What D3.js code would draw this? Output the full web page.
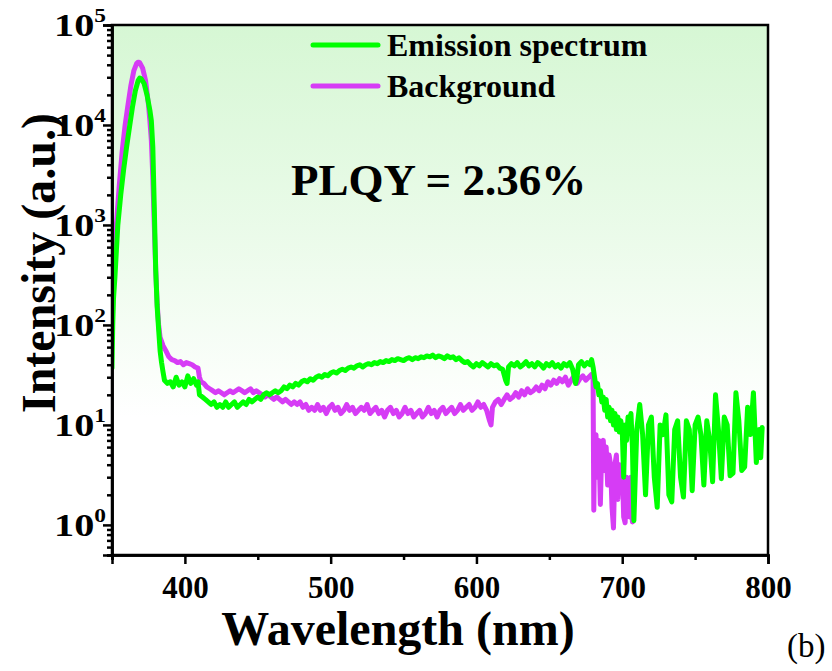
<!DOCTYPE html>
<html>
<head>
<meta charset="utf-8">
<script src="https://cdn.jsdelivr.net/npm/d3@7"></script>
<style>
  body { margin: 0; background: #fff; }
  svg { display: block; }
</style>
</head>
<body>
<script>
// PL spectrum vs background, log intensity axis

const xMajorTicks = [400, 500, 600, 700, 800];
const xMinorTicks = [350, 450, 550, 650, 750];
const yDecades = [0, 1, 2, 3, 4, 5];
const legendLabels = ["Emission spectrum", "Background"];
const seriesColors = ["#00ff00", "#d63cf5"];
const plqyLabel = "PLQY = 2.36%";

// [wavelength nm, intensity a.u.]
const emissionSpectrum = [
  [350, 37], [350.5, 100], [351, 180], [352, 300], [353, 550], [354, 1000], [356, 2000], [358, 3600],
  [360, 6000], [362, 9500], [364, 15000], [366, 22000], [368, 28000], [369, 29500], [370, 29000],
  [372, 26000], [374, 20000], [376, 14000], [377, 11000], [378, 6000], [379, 1500], [380, 350],
  [381, 150], [382, 90], [383, 55], [384, 42], [385, 34], [386, 28], [388, 26], [390, 27], [392, 24],
  [394, 30], [396, 25], [398, 27], [400, 24], [402, 31], [404, 26], [406, 29], [408, 25], [409, 27],
  [410, 20], [412, 19], [414, 18], [416, 17], [418, 16], [420, 17], [422, 15], [424, 16], [426, 15],
  [428, 17], [430, 15], [432, 16], [434, 17], [436, 15], [438, 16], [440, 17], [442, 16], [444, 18],
  [446, 17], [448, 18], [450, 19], [452, 18], [454, 20], [456, 21], [458, 20], [460, 21], [462, 22],
  [464, 21], [466, 22], [468, 24], [470, 23], [472, 25], [474, 24], [476, 26], [478, 25], [480, 27],
  [482, 28], [484, 27], [486, 29], [488, 28], [490, 30], [492, 31], [494, 30], [496, 32], [498, 31],
  [500, 33], [502, 34], [504, 33], [506, 35], [508, 36], [510, 35], [512, 37], [514, 38], [516, 37],
  [518, 39], [520, 40], [522, 38], [524, 40], [526, 41], [528, 40], [530, 42], [532, 41], [534, 43],
  [536, 42], [538, 44], [540, 43], [542, 45], [544, 44], [546, 46], [548, 45], [550, 44], [552, 46],
  [554, 47], [556, 45], [558, 47], [560, 46], [562, 48], [564, 47], [566, 49], [568, 48], [570, 50],
  [572, 47], [574, 49], [576, 48], [578, 46], [580, 49], [582, 47], [584, 48], [586, 45], [588, 47],
  [590, 44], [592, 42], [594, 43], [596, 40], [598, 38], [600, 41], [602, 39], [604, 42], [606, 40],
  [608, 38], [610, 41], [612, 39], [614, 40], [616, 37], [618, 36], [620, 28], [621, 26], [622, 38],
  [624, 41], [626, 39], [628, 42], [630, 38], [632, 40], [634, 43], [636, 39], [638, 41], [640, 38],
  [642, 42], [644, 40], [646, 37], [648, 41], [650, 39], [652, 42], [654, 38], [656, 40], [658, 37],
  [660, 41], [662, 39], [664, 42], [666, 36], [668, 26], [669, 30], [670, 40], [672, 43], [674, 39],
  [676, 42], [678, 40], [679, 45], [680, 38], [681, 30], [682, 24], [683, 26], [684, 20], [685, 22],
  [686, 17], [687, 19], [688, 14], [689, 18], [690, 12], [691, 15], [692, 11], [693, 14], [694, 10],
  [695, 13], [696, 9], [697, 12], [698, 8.5], [699, 11], [700, 9], [701, 3], [702, 10], [703, 7],
  [704, 12], [705, 9], [706, 13], [707, 6], [708, 1.1], [710, 9], [712, 16], [714, 8], [716, 2.0],
  [718, 10], [720, 12], [722, 3], [724, 1.5], [726, 10], [728, 8], [730, 12.6], [732, 2], [734, 1.7],
  [736, 9], [738, 11], [740, 3], [742, 1.9], [744, 11], [746, 9], [748, 2.2], [750, 10], [752, 12],
  [754, 8], [756, 2.5], [758, 11], [760, 7], [762, 2.7], [764, 20], [766, 9], [768, 2.9], [770, 12],
  [772, 10], [774, 3.1], [776, 3.3], [778, 21], [780, 11], [782, 3.5], [784, 3.8], [786, 15], [788, 8],
  [790, 21], [792, 4.2], [794, 9], [795, 4.7], [796, 9.4]
];

const backgroundSpectrum = [
  [350, 90], [351, 250], [352, 550], [353, 1000], [355, 2500], [357, 5500], [359, 10000], [361, 16000],
  [363, 25000], [365, 35000], [367, 41500], [368, 42500], [369, 42000], [371, 37000], [373, 28000],
  [375, 16000], [376, 11000], [377, 7000], [378, 3000], [379, 1000], [380, 350], [381, 160], [382, 100],
  [383, 75], [385, 62], [387, 55], [389, 48], [391, 45], [393, 44], [395, 42], [397, 43], [399, 40],
  [401, 42], [403, 41], [405, 40], [407, 38], [409, 37], [410, 30], [411, 27], [413, 26], [415, 24],
  [417, 23], [419, 22], [421, 21], [423, 22], [425, 21], [427, 20], [429, 21], [431, 22], [433, 21],
  [435, 22], [437, 23], [439, 22], [441, 21], [443, 22], [445, 23], [447, 21], [449, 22], [451, 21],
  [453, 20], [455, 19], [457, 20], [459, 19], [461, 18], [463, 19], [465, 18], [467, 17], [469, 18],
  [471, 17], [473, 16], [475, 17], [477, 16], [479, 17], [481, 15], [483, 16], [485, 14], [487, 15],
  [489, 14], [491, 16], [493, 14], [495, 15], [497, 13], [499, 15], [501, 16], [503, 14], [505, 15],
  [507, 13], [509, 14], [511, 16], [513, 14], [515, 15], [517, 13], [519, 14], [521, 15], [523, 14],
  [525, 16], [527, 13], [529, 14], [531, 15], [533, 13], [535, 14], [537, 12], [539, 14], [541, 15],
  [543, 13], [545, 14], [547, 12], [549, 13], [551, 15], [553, 13], [555, 14], [557, 12], [559, 13],
  [561, 14], [563, 12], [565, 13], [567, 15], [569, 13], [571, 14], [573, 12], [575, 14], [577, 15],
  [579, 13], [581, 14], [583, 15], [585, 13], [587, 14], [589, 16], [591, 14], [593, 15], [595, 16],
  [597, 14], [599, 15], [601, 17], [603, 15], [605, 16], [607, 14], [609, 11], [610, 10], [611, 15],
  [613, 17], [615, 18], [617, 16], [619, 18], [621, 20], [623, 18], [625, 19], [627, 21], [629, 19],
  [631, 22], [633, 20], [635, 23], [637, 21], [639, 22], [641, 24], [643, 22], [645, 25], [647, 23],
  [649, 27], [651, 25], [653, 28], [655, 26], [657, 29], [659, 27], [661, 30], [663, 25], [665, 28],
  [667, 31], [669, 26], [671, 29], [673, 31], [675, 28], [677, 30], [679, 32], [680, 30], [680.5, 1.4],
  [681, 6], [682, 8], [683, 3], [684, 7], [685, 1.6], [686, 6], [687, 7], [688, 3.5], [689, 6],
  [690, 2.5], [691, 5], [692, 4], [693, 1.5], [694, 0.93], [695, 4], [696, 5], [697, 1.8], [698, 4],
  [699, 3], [700, 4], [701, 1.2], [702, 1.05], [703, 3], [704, 2.5], [705, 1.2], [706, 3], [707, 1.07]
];

const width = 832, height = 671;
const plot = { left: 112, right: 768, top: 25, bottom: 555 };
const serif = "'Times New Roman', 'Liberation Serif', serif";

const svg = d3.select("body").append("svg")
  .attr("width", width)
  .attr("height", height)
  .style("font-family", serif);

const x = d3.scaleLinear().domain([350, 800]).range([plot.left, plot.right]);
const y = d3.scaleLog().domain([0.5, 1e5]).range([plot.bottom, plot.top]);

// soft green wash behind the data
const defs = svg.append("defs");
const grad = defs.append("linearGradient")
  .attr("id", "bg")
  .attr("x1", 0).attr("y1", 0).attr("x2", 0).attr("y2", 1);
grad.append("stop").attr("offset", "0%").attr("stop-color", "#d6f7d4");
grad.append("stop").attr("offset", "40%").attr("stop-color", "#ebfbea");
grad.append("stop").attr("offset", "74%").attr("stop-color", "#ffffff");

defs.append("clipPath").attr("id", "clip")
  .append("rect")
  .attr("x", plot.left).attr("y", plot.top)
  .attr("width", plot.right - plot.left).attr("height", plot.bottom - plot.top);

svg.append("rect")
  .attr("x", plot.left).attr("y", plot.top)
  .attr("width", plot.right - plot.left).attr("height", plot.bottom - plot.top)
  .attr("fill", "url(#bg)");

const line = d3.line()
  .x(d => x(d[0]))
  .y(d => y(d[1]));

const lines = svg.append("g").attr("clip-path", "url(#clip)");
[backgroundSpectrum, emissionSpectrum].forEach((data, i) => {
  lines.append("path")
    .datum(data)
    .attr("d", line)
    .attr("fill", "none")
    .attr("stroke", seriesColors[1 - i])
    .attr("stroke-width", 5)
    .attr("stroke-linejoin", "round")
    .attr("stroke-linecap", "round");
});

// frame
svg.append("rect")
  .attr("x", plot.left).attr("y", plot.top)
  .attr("width", plot.right - plot.left).attr("height", plot.bottom - plot.top)
  .attr("fill", "none")
  .attr("stroke", "#000")
  .attr("stroke-width", 2.5);

// x axis
const xAxis = svg.append("g")
  .attr("transform", `translate(0,${plot.bottom})`)
  .call(d3.axisBottom(x).tickValues(xMajorTicks).tickSize(9).tickPadding(12).tickFormat(d3.format("d")));
svg.append("g")
  .attr("transform", `translate(0,${plot.bottom})`)
  .call(d3.axisBottom(x).tickValues(xMinorTicks).tickSize(5).tickFormat(""));

// y axis: decades plus 2..9 minor ticks
const yMajor = yDecades.map(p => Math.pow(10, p));
const yMinor = [];
[-1, 0, 1, 2, 3, 4].forEach(p => {
  for (let k = 2; k <= 9; k++) {
    const v = k * Math.pow(10, p);
    if (v >= 0.5 && v < 1e5) yMinor.push(v);
  }
});
const yAxis = svg.append("g")
  .attr("transform", `translate(${plot.left},0)`)
  .call(d3.axisLeft(y).tickValues(yMajor).tickSize(9).tickPadding(6).tickFormat(""));
svg.append("g")
  .attr("transform", `translate(${plot.left},0)`)
  .call(d3.axisLeft(y).tickValues(yMinor).tickSize(5).tickFormat(""));

svg.selectAll(".domain").attr("stroke-width", 2.5);
svg.selectAll(".tick line").attr("stroke-width", 2.5);

xAxis.selectAll(".tick text")
  .attr("font-family", serif)
  .attr("font-size", 31)
  .attr("font-weight", "bold")
  .attr("fill", "#000");

// 10^n labels, drawn a little wide like the original
yAxis.selectAll(".tick").each(function (d) {
  const t = d3.select(this).select("text")
    .attr("font-family", serif)
    .attr("font-size", 31)
    .attr("font-weight", "bold")
    .attr("fill", "#000")
    .attr("x", -6 / 1.3)
    .attr("dy", "0.35em")
    .attr("transform", "scale(1.3,1)");
  t.append("tspan").text("10");
  t.append("tspan")
    .attr("font-size", 18)
    .attr("dy", "-0.8em")
    .text(Math.round(Math.log10(d)));
});

// axis titles
svg.append("text")
  .attr("x", 398).attr("y", 645)
  .attr("text-anchor", "middle")
  .attr("font-size", 48)
  .attr("font-weight", "bold")
  .text("Wavelength (nm)");

svg.append("text")
  .attr("transform", "translate(55,263) rotate(-90)")
  .attr("text-anchor", "middle")
  .attr("font-size", 48)
  .attr("font-weight", "bold")
  .text("Intensity (a.u.)");

svg.append("text")
  .attr("x", 787).attr("y", 657)
  .attr("font-size", 33)
  .text("(b)");

// legend
const legend = svg.append("g");
legendLabels.forEach((label, i) => {
  const ly = 45 + i * 41;
  legend.append("line")
    .attr("x1", 313).attr("x2", 378)
    .attr("y1", ly).attr("y2", ly)
    .attr("stroke", seriesColors[i])
    .attr("stroke-width", 5)
    .attr("stroke-linecap", "round");
  legend.append("text")
    .attr("x", 387).attr("y", ly + 11)
    .attr("font-size", 32)
    .attr("font-weight", "bold")
    .text(label);
});

svg.append("text")
  .attr("x", 291).attr("y", 195)
  .attr("font-size", 45)
  .attr("font-weight", "bold")
  .text(plqyLabel);
</script>
</body>
</html>
